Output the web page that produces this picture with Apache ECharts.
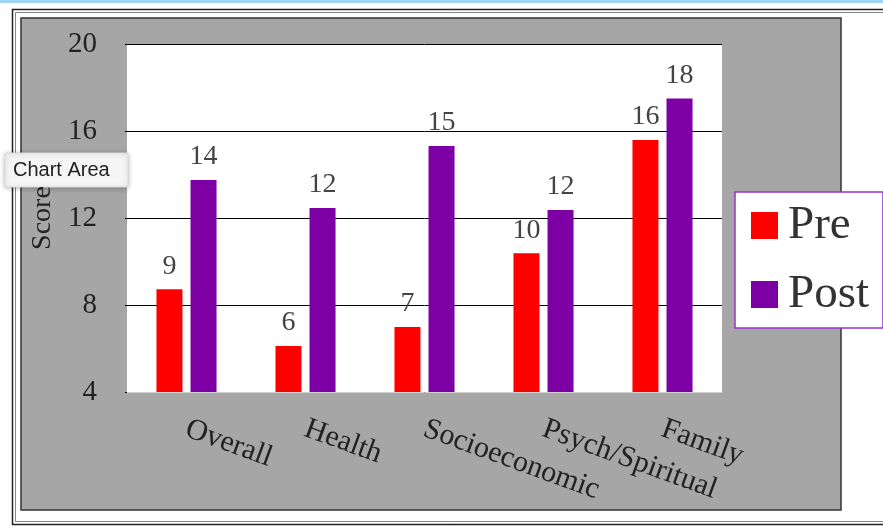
<!DOCTYPE html>
<html>
<head>
<meta charset="utf-8">
<script src="https://cdn.jsdelivr.net/npm/echarts@6/dist/echarts.min.js"></script>
<style>
  html, body { margin: 0; padding: 0; background: #fff; }
  #vis { width: 883px; height: 529px; }
</style>
</head>
<body>
<div id="vis"></div>
<script>
const categories = ['Overall', 'Health', 'Socioeconomic', 'Psych/Spiritual', 'Family']
const preScores = [8.72, 6.11, 6.99, 10.38, 15.59]
const postScores = [13.75, 12.46, 15.31, 12.37, 17.5]
const yTicks = [4, 8, 12, 16, 20]
const seriesNames = ['Pre', 'Post']

const serif = 'Liberation Serif'
const red = '#ff0000'
const purple = '#7c00a3'

const barLabel = {
  show: true,
  position: 'top',
  distance: 9,
  fontFamily: serif,
  fontSize: 28,
  color: '#444',
  formatter: p => Math.round(p.value)
}

const option = {
  animation: false,
  backgroundColor: '#fff',
  textStyle: { fontFamily: serif },
  graphic: [
    // light blue line at the very top
    { type: 'rect', z: -20, shape: { x: 0, y: 0, width: 883, height: 3 }, style: { fill: '#9fd6f7' } },
    // outer frame
    { type: 'rect', z: -20, shape: { x: 12.5, y: 9.5, width: 900, height: 515 }, style: { fill: '#fff', stroke: '#222', lineWidth: 1.5 } },
    { type: 'rect', z: -19, shape: { x: 15.5, y: 12.5, width: 900, height: 509 }, style: { fill: 'none', stroke: '#666', lineWidth: 0.8 } },
    // gray chart area
    { type: 'rect', z: -18, shape: { x: 21, y: 18, width: 820, height: 492 }, style: { fill: '#a6a6a6', stroke: '#333', lineWidth: 1.5 } },
    // "Chart Area" hover box from the screenshot
    {
      type: 'group',
      z: 100,
      children: [
        { type: 'rect', shape: { x: 5, y: 153, width: 123, height: 34, r: 2 }, style: { fill: '#f5f5f5', stroke: '#d8d8d8', lineWidth: 1, shadowBlur: 5, shadowColor: 'rgba(0,0,0,0.25)', shadowOffsetY: 1 } },
        { type: 'text', style: { x: 13, y: 170, text: 'Chart Area', fontFamily: 'Liberation Sans', fontSize: 20, fill: '#222', verticalAlign: 'middle' } }
      ]
    }
  ],
  legend: {
    orient: 'vertical',
    left: 735,
    top: 192,
    padding: [10, 14, 10, 16],
    itemGap: 22,
    itemWidth: 27,
    itemHeight: 27,
    icon: 'rect',
    backgroundColor: '#fff',
    borderColor: '#9b30d0',
    borderWidth: 1.5,
    textStyle: { fontFamily: serif, fontSize: 47, lineHeight: 46, color: '#333', padding: [0, 0, 0, 5] },
    data: seriesNames
  },
  grid: {
    left: 127,
    top: 44,
    right: 161,
    bottom: 137,
    show: true,
    backgroundColor: '#fff',
    borderWidth: 0
  },
  xAxis: {
    type: 'category',
    data: categories,
    axisLine: { show: true, lineStyle: { color: '#d0d0d0', width: 1 } },
    axisTick: { show: false },
    axisLabel: {
      interval: 0,
      rotate: -20,
      margin: 36,
      fontFamily: serif,
      fontSize: 30,
      color: '#222'
    }
  },
  yAxis: {
    type: 'value',
    min: yTicks[0],
    max: yTicks[yTicks.length - 1],
    interval: yTicks[1] - yTicks[0],
    name: 'Score',
    nameLocation: 'middle',
    nameRotate: 90,
    nameGap: 70,
    nameTextStyle: { fontFamily: serif, fontSize: 28, color: '#222' },
    axisLine: { show: false },
    axisTick: { show: true, length: 2, lineStyle: { color: '#000' } },
    splitLine: { show: true, lineStyle: { color: '#000', width: 1 } },
    axisLabel: { margin: 30, fontFamily: serif, fontSize: 29, color: '#222' }
  },
  series: [
    {
      name: seriesNames[0],
      type: 'bar',
      data: preScores,
      barWidth: 26,
      barGap: '31%',
      itemStyle: { color: red },
      label: barLabel
    },
    {
      name: seriesNames[1],
      type: 'bar',
      data: postScores,
      barWidth: 26,
      barGap: '31%',
      itemStyle: { color: purple },
      label: barLabel
    }
  ]
}

const chart = echarts.init(document.getElementById('vis'))
chart.setOption(option)
</script>
</body>
</html>
